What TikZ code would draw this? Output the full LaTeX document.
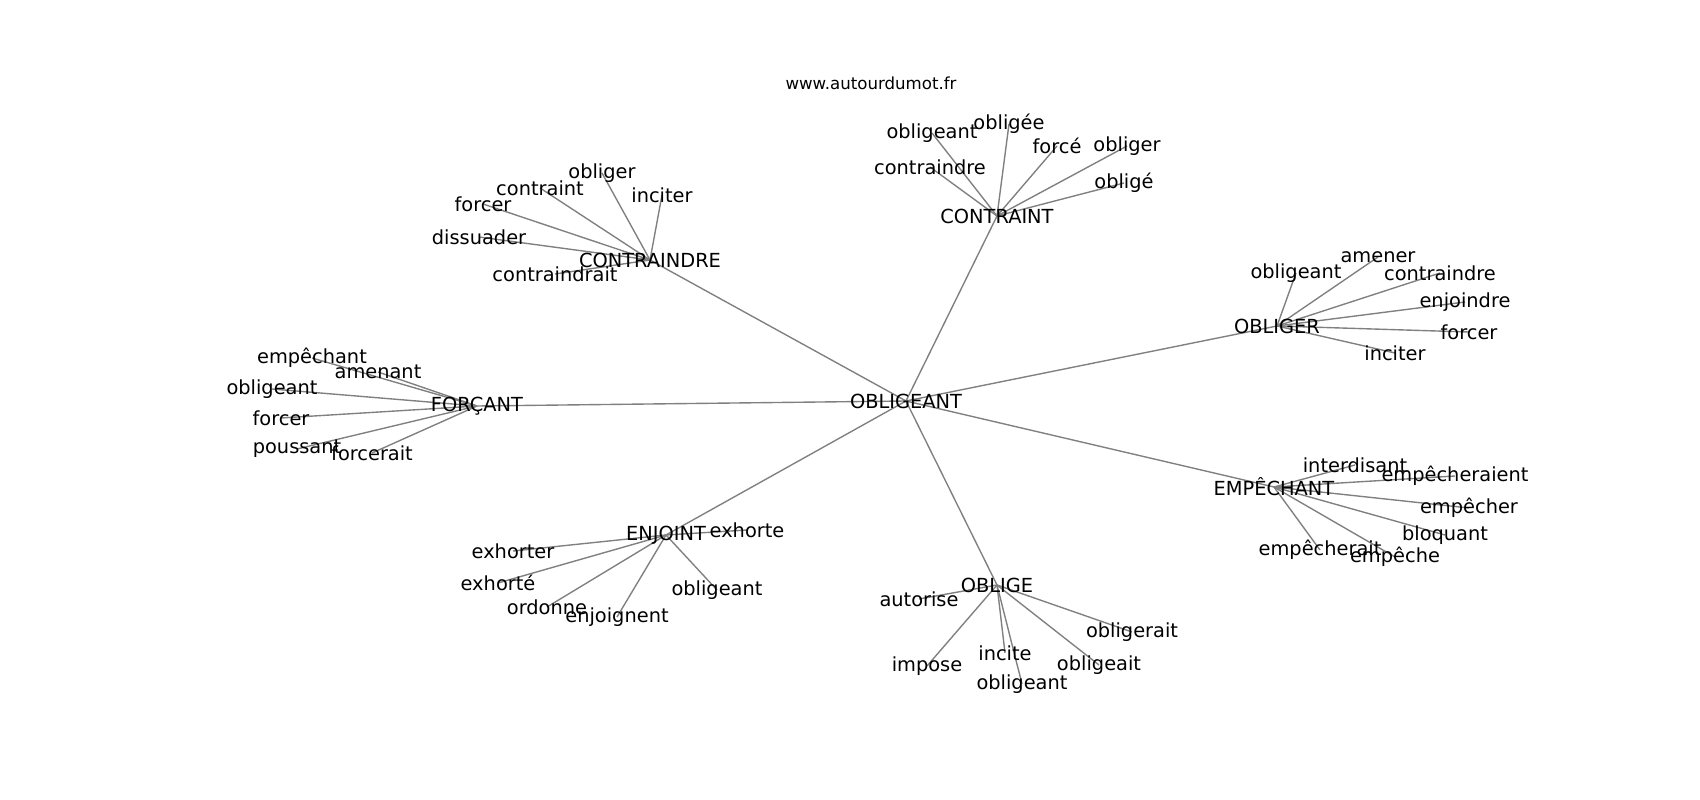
\documentclass[tikz,border=0pt]{standalone}
\usepackage{fontspec}
\setmainfont{DejaVu Sans}
\usepackage{xcolor}
\usetikzlibrary{backgrounds}
\definecolor{linkgray}{RGB}{128,128,128}

\tikzset{
  word/.style={inner sep=0pt, font=\fontsize{14}{16}\selectfont},
  link/.style={draw=linkgray, line width=1pt}
}

\begin{document}
\begin{tikzpicture}[x=0.01in, y=-0.01in]
  \useasboundingbox (0,0) rectangle (1700,800);
  \node (site) [inner sep=0pt, font=\fontsize{12}{14}\selectfont] at (871,83) {www.autourdumot.fr};

  % hubs
  \node (ob) [word] at (906,401) {OBLIGEANT};
  \node (cd) [word] at (650,260) {CONTRAINDRE};
  \node (ct) [word] at (997,216) {CONTRAINT};
  \node (og) [word] at (1277,326) {OBLIGER};
  \node (fc) [word] at (477,406) {FORÇANT};
  \node (em) [word] at (1274,487) {EMPÊCHANT};
  \node (ej) [word] at (666,535) {ENJOINT};
  \node (oe) [word] at (997,585) {OBLIGE};

  % CONTRAINDRE
  \node (cd-obliger) [word] at (602,173) {obliger};
  \node (cd-contraint) [word] at (540,188) {contraint};
  \node (cd-forcer) [word] at (483,204) {forcer};
  \node (cd-inciter) [word] at (662,195) {inciter};
  \node (cd-dissuader) [word] at (479,237) {dissuader};
  \node (cd-contraindrait) [word] at (555,274) {contraindrait};

  % CONTRAINT
  \node (ct-obligeant) [word] at (932,133) {obligeant};
  \node (ct-obligee) [word] at (1009,124) {obligée};
  \node (ct-force) [word] at (1057,146) {forcé};
  \node (ct-obliger) [word] at (1127,146) {obliger};
  \node (ct-contraindre) [word] at (930,167) {contraindre};
  \node (ct-oblige) [word] at (1124,183) {obligé};

  % OBLIGER
  \node (og-obligeant) [word] at (1296,273) {obligeant};
  \node (og-amener) [word] at (1378,257) {amener};
  \node (og-contraindre) [word] at (1440,273) {contraindre};
  \node (og-enjoindre) [word] at (1465,302) {enjoindre};
  \node (og-forcer) [word] at (1469,332) {forcer};
  \node (og-inciter) [word] at (1395,353) {inciter};

  % FORÇANT
  \node (fc-empechant) [word] at (312,358) {empêchant};
  \node (fc-amenant) [word] at (378,372) {amenant};
  \node (fc-obligeant) [word] at (272,389) {obligeant};
  \node (fc-forcer) [word] at (281,418) {forcer};
  \node (fc-poussant) [word] at (297,449) {poussant};
  \node (fc-forcerait) [word] at (372,453) {forcerait};

  % EMPÊCHANT
  \node (em-interdisant) [word] at (1355,465) {interdisant};
  \node (em-empecheraient) [word] at (1455,476) {empêcheraient};
  \node (em-empecher) [word] at (1469,508) {empêcher};
  \node (em-bloquant) [word] at (1445,535) {bloquant};
  \node (em-empecherait) [word] at (1320,550) {empêcherait};
  \node (em-empeche) [word] at (1395,557) {empêche};

  % ENJOINT
  \node (ej-exhorte) [word] at (747,530) {exhorte};
  \node (ej-exhorter) [word] at (513,551) {exhorter};
  \node (ej-exhortee) [word] at (498,583) {exhorté};
  \node (ej-ordonne) [word] at (547,607) {ordonne};
  \node (ej-enjoignent) [word] at (617,617) {enjoignent};
  \node (ej-obligeant) [word] at (717,590) {obligeant};

  % OBLIGE
  \node (oe-autorise) [word] at (919,599) {autorise};
  \node (oe-impose) [word] at (927,666) {impose};
  \node (oe-incite) [word] at (1005,653) {incite};
  \node (oe-obligeant) [word] at (1022,684) {obligeant};
  \node (oe-obligeait) [word] at (1099,665) {obligeait};
  \node (oe-obligerait) [word] at (1132,632) {obligerait};

  \begin{scope}[on background layer]
    \foreach \h in {cd,ct,og,fc,em,ej,oe}
      \draw [link] (ob.center) -- (\h.center);
    \foreach \w in {obliger,contraint,forcer,inciter,dissuader,contraindrait}
      \draw [link] (cd.center) -- (cd-\w.center);
    \foreach \w in {obligeant,obligee,force,obliger,contraindre,oblige}
      \draw [link] (ct.center) -- (ct-\w.center);
    \foreach \w in {obligeant,amener,contraindre,enjoindre,forcer,inciter}
      \draw [link] (og.center) -- (og-\w.center);
    \foreach \w in {empechant,amenant,obligeant,forcer,poussant,forcerait}
      \draw [link] (fc.center) -- (fc-\w.center);
    \foreach \w in {interdisant,empecheraient,empecher,bloquant,empecherait,empeche}
      \draw [link] (em.center) -- (em-\w.center);
    \foreach \w in {exhorte,exhorter,exhortee,ordonne,enjoignent,obligeant}
      \draw [link] (ej.center) -- (ej-\w.center);
    \foreach \w in {autorise,impose,incite,obligeant,obligeait,obligerait}
      \draw [link] (oe.center) -- (oe-\w.center);
  \end{scope}
\end{tikzpicture}
\end{document}
